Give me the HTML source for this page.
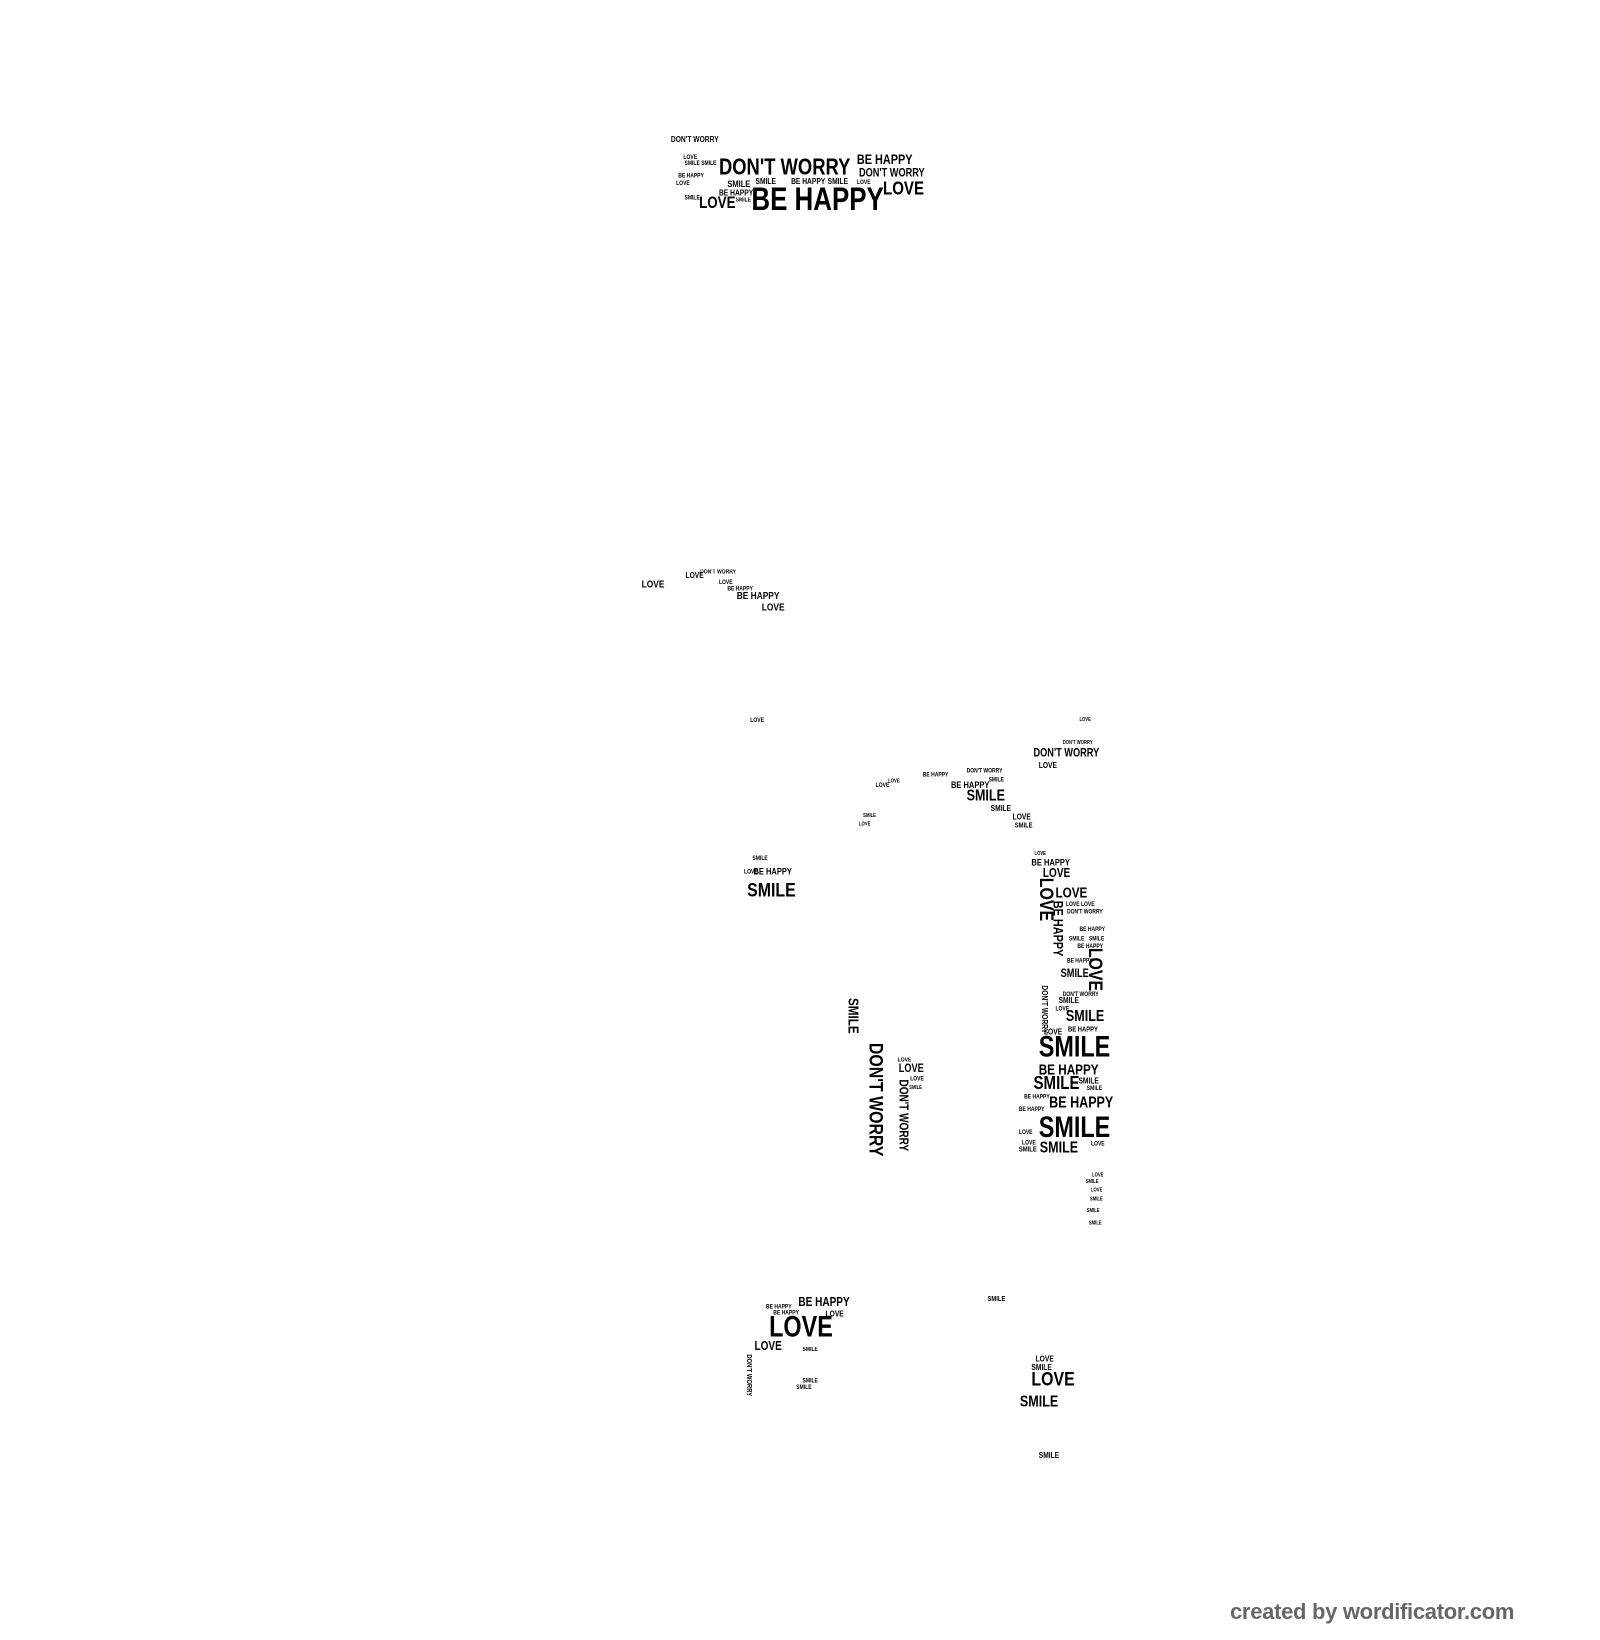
<!DOCTYPE html>
<html><head><meta charset="utf-8"><style>
html,body{margin:0;padding:0;background:#fff;width:1600px;height:1640px;overflow:hidden;position:relative}
#w{position:absolute;left:0;top:0;width:1531px;height:1570px;transform:scale(1.045);transform-origin:0 0}
#w span{position:absolute;font-family:"Liberation Sans Narrow","Liberation Sans",sans-serif;font-weight:bold;color:#000;line-height:1;white-space:nowrap;transform:scaleX(.8);transform-origin:0 0}
#w span.v{writing-mode:vertical-rl;transform:scaleY(.8)}
#wm{position:absolute;left:1230px;top:1599px;font-family:"Liberation Sans",sans-serif;font-weight:bold;font-size:22px;color:#666;letter-spacing:-0.3px}
</style></head><body>
<div id="w">
<!-- header -->
<span style="left:688px;top:149px;font-size:22px">DON'T WORRY</span>
<span style="left:719px;top:175px;font-size:31px">BE HAPPY</span>
<span style="left:820px;top:146px;font-size:13px">BE HAPPY</span>
<span style="left:822px;top:161px;font-size:11px">DON'T WORRY</span>
<span style="left:845px;top:171px;font-size:18px">LOVE</span>
<span style="left:669px;top:187px;font-size:16px">LOVE</span>
<span style="left:642px;top:130px;font-size:8px">DON'T WORRY</span>
<span style="left:654px;top:148px;font-size:6px">LOVE</span>
<span style="left:655px;top:154px;font-size:6px">SMILE</span>
<span style="left:671px;top:154px;font-size:6px">SMILE</span>
<span style="left:649px;top:166px;font-size:6px">BE HAPPY</span>
<span style="left:647px;top:173px;font-size:6px">LOVE</span>
<span style="left:655px;top:187px;font-size:6px">SMILE</span>
<span style="left:696px;top:172px;font-size:9px">SMILE</span>
<span style="left:723px;top:170px;font-size:8px">SMILE</span>
<span style="left:757px;top:170px;font-size:8px">BE HAPPY</span>
<span style="left:792px;top:170px;font-size:8px">SMILE</span>
<span style="left:820px;top:172px;font-size:6px">LOVE</span>
<span style="left:688px;top:181px;font-size:8px">BE HAPPY</span>
<span style="left:704px;top:189px;font-size:6px">SMILE</span>
<!-- upper middle -->
<span style="left:614px;top:555px;font-size:10px">LOVE</span>
<span style="left:656px;top:547px;font-size:8px">LOVE</span>
<span style="left:670px;top:545px;font-size:6px">DON'T WORRY</span>
<span style="left:688px;top:555px;font-size:6px">LOVE</span>
<span style="left:696px;top:561px;font-size:6px">BE HAPPY</span>
<span style="left:705px;top:566px;font-size:10px">BE HAPPY</span>
<span style="left:729px;top:577px;font-size:10px">LOVE</span>
<span style="left:718px;top:687px;font-size:6px">LOVE</span>
<!-- upper right -->
<span style="left:1033px;top:687px;font-size:5px">LOVE</span>
<span style="left:1017px;top:709px;font-size:5px">DON'T WORRY</span>
<span style="left:989px;top:716px;font-size:11px">DON'T WORRY</span>
<span style="left:994px;top:729px;font-size:8px">LOVE</span>
<span style="left:925px;top:754px;font-size:15px">SMILE</span>
<span style="left:910px;top:747px;font-size:9px">BE HAPPY</span>
<span style="left:948px;top:770px;font-size:8px">SMILE</span>
<span style="left:969px;top:778px;font-size:8px">LOVE</span>
<span style="left:971px;top:787px;font-size:7px">SMILE</span>
<span style="left:883px;top:739px;font-size:6px">BE HAPPY</span>
<span style="left:925px;top:735px;font-size:6px">DON'T WORRY</span>
<span style="left:946px;top:744px;font-size:6px">SMILE</span>
<span style="left:838px;top:749px;font-size:6px">LOVE</span>
<span style="left:850px;top:746px;font-size:5px">LOVE</span>
<span style="left:826px;top:779px;font-size:5px">SMILE</span>
<span style="left:822px;top:787px;font-size:5px">LOVE</span>
<!-- left smile cluster -->
<span style="left:715px;top:843px;font-size:19px">SMILE</span>
<span style="left:721px;top:830px;font-size:9px">BE HAPPY</span>
<span style="left:720px;top:819px;font-size:6px">SMILE</span>
<span style="left:712px;top:832px;font-size:6px">LOVE</span>
<!-- right column -->
<span style="left:987px;top:821px;font-size:9px">BE HAPPY</span>
<span style="left:990px;top:815px;font-size:5px">LOVE</span>
<span style="left:998px;top:829px;font-size:12px">LOVE</span>
<span class="v" style="left:991px;top:840px;font-size:19px">LOVE</span>
<span style="left:1010px;top:847px;font-size:14px">LOVE</span>
<span class="v" style="left:1006px;top:862px;font-size:13px">BE HAPPY</span>
<span style="left:1020px;top:863px;font-size:6px">LOVE LOVE</span>
<span style="left:1021px;top:870px;font-size:6px">DON'T WORRY</span>
<span style="left:1033px;top:887px;font-size:6px">BE HAPPY</span>
<span style="left:1023px;top:896px;font-size:6px">SMILE</span>
<span style="left:1042px;top:896px;font-size:6px">SMILE</span>
<span style="left:1031px;top:903px;font-size:6px">BE HAPPY</span>
<span class="v" style="left:1038px;top:907px;font-size:19px">LOVE</span>
<span style="left:1021px;top:917px;font-size:6px">BE HAPPY</span>
<span style="left:1015px;top:927px;font-size:11px">SMILE</span>
<span class="v" style="left:995px;top:943px;font-size:8px">DON'T WORRY</span>
<span style="left:1017px;top:949px;font-size:6px">DON'T WORRY</span>
<span style="left:1013px;top:954px;font-size:8px">SMILE</span>
<span style="left:1010px;top:963px;font-size:6px">LOVE</span>
<span style="left:1020px;top:965px;font-size:15px">SMILE</span>
<span style="left:999px;top:984px;font-size:8px">LOVE</span>
<span style="left:1022px;top:982px;font-size:7px">BE HAPPY</span>
<span style="left:994px;top:988px;font-size:28px">SMILE</span>
<span style="left:994px;top:1016px;font-size:14px">BE HAPPY</span>
<span style="left:989px;top:1027px;font-size:18px">SMILE</span>
<span style="left:1032px;top:1031px;font-size:8px">SMILE</span>
<span style="left:1040px;top:1039px;font-size:6px">SMILE</span>
<span style="left:980px;top:1047px;font-size:6px">BE HAPPY</span>
<span style="left:1004px;top:1048px;font-size:15px">BE HAPPY</span>
<span style="left:975px;top:1059px;font-size:6px">BE HAPPY</span>
<span style="left:994px;top:1065px;font-size:28px">SMILE</span>
<span style="left:975px;top:1081px;font-size:6px">LOVE</span>
<span style="left:978px;top:1091px;font-size:6px">LOVE</span>
<span style="left:975px;top:1097px;font-size:7px">SMILE</span>
<span style="left:995px;top:1091px;font-size:15px">SMILE</span>
<span style="left:1044px;top:1092px;font-size:6px">LOVE</span>
<span style="left:1045px;top:1123px;font-size:5px">LOVE</span>
<span style="left:1039px;top:1129px;font-size:5px">SMILE</span>
<span style="left:1044px;top:1137px;font-size:5px">LOVE</span>
<span style="left:1043px;top:1146px;font-size:5px">SMILE</span>
<span style="left:1040px;top:1157px;font-size:5px">SMILE</span>
<span style="left:1042px;top:1169px;font-size:5px">SMILE</span>
<!-- middle verticals -->
<span class="v" style="left:810px;top:955px;font-size:14px">SMILE</span>
<span class="v" style="left:828px;top:998px;font-size:19px">DON'T WORRY</span>
<span style="left:860px;top:1018px;font-size:11px">LOVE</span>
<span style="left:859px;top:1012px;font-size:6px">LOVE</span>
<span style="left:871px;top:1030px;font-size:6px">LOVE</span>
<span style="left:870px;top:1039px;font-size:5px">SMILE</span>
<span class="v" style="left:859px;top:1033px;font-size:12px">DON'T WORRY</span>
<!-- bottom left -->
<span style="left:764px;top:1240px;font-size:12px">BE HAPPY</span>
<span style="left:733px;top:1248px;font-size:6px">BE HAPPY</span>
<span style="left:740px;top:1254px;font-size:6px">BE HAPPY</span>
<span style="left:736px;top:1256px;font-size:28px">LOVE</span>
<span style="left:790px;top:1254px;font-size:8px">LOVE</span>
<span style="left:722px;top:1282px;font-size:12px">LOVE</span>
<span style="left:768px;top:1289px;font-size:6px">SMILE</span>
<span style="left:768px;top:1319px;font-size:6px">SMILE</span>
<span style="left:762px;top:1325px;font-size:6px">SMILE</span>
<span class="v" style="left:713px;top:1296px;font-size:7px">DON'T WORRY</span>
<!-- bottom right -->
<span style="left:945px;top:1240px;font-size:7px">SMILE</span>
<span style="left:991px;top:1297px;font-size:8px">LOVE</span>
<span style="left:987px;top:1305px;font-size:8px">SMILE</span>
<span style="left:987px;top:1311px;font-size:19px">LOVE</span>
<span style="left:976px;top:1334px;font-size:15px">SMILE</span>
<span style="left:994px;top:1389px;font-size:8px">SMILE</span>
</div>
<div id="wm">created by wordificator.com</div>
</body></html>
